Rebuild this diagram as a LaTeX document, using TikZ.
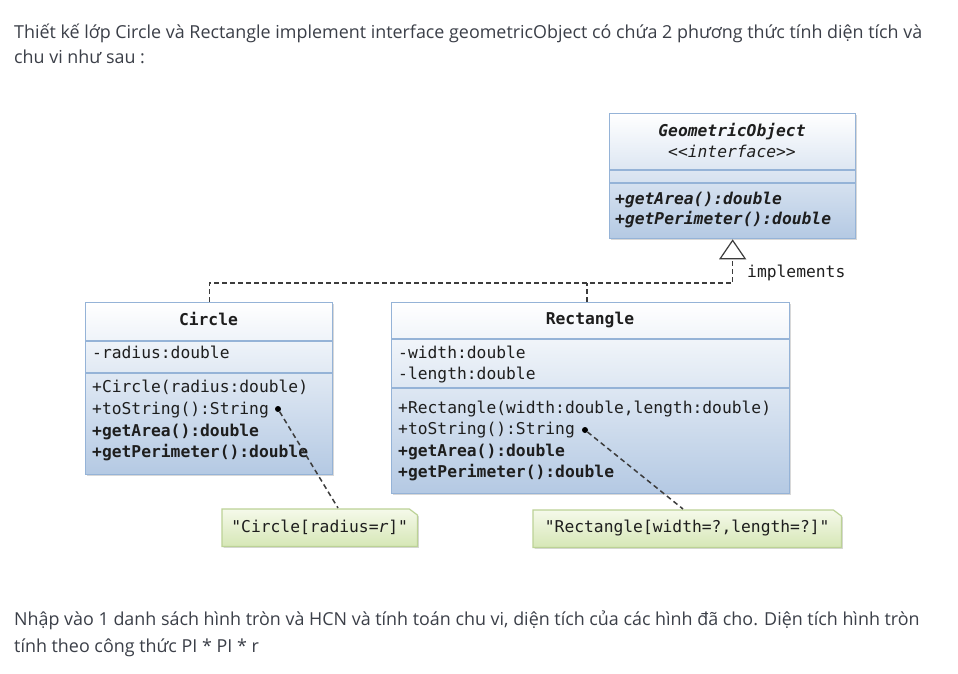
\documentclass[tikz,border=0pt]{standalone}
\usepackage{fontspec}
\setmainfont{Open Sans}
\setmonofont{DejaVu Sans Mono}
\usetikzlibrary{arrows.meta,shadows}
\definecolor{txt}{HTML}{3B3F48}
\definecolor{boxline}{HTML}{95B3D7}
\definecolor{boxbot}{HTML}{B4C9E3}
\definecolor{notetop}{HTML}{F5F9EA}
\definecolor{notebot}{HTML}{D6E7B6}
\definecolor{noteline}{HTML}{BCD296}
\definecolor{monotxt}{HTML}{1E1E1E}
\definecolor{conncol}{HTML}{3C3C3C}
\begin{document}
\begin{tikzpicture}[x=1pt,y=-1pt,
  para/.style={font=\fontsize{17.9}{22}\selectfont, text=txt, anchor=base west, inner sep=0},
  mono/.style={font=\fontsize{16.3}{20}\ttfamily\selectfont, text=monotxt, inner sep=0},
  umlbox/.style={draw=boxline, line width=1.3pt, top color=white, bottom color=boxbot,
     drop shadow={shadow xshift=1.5pt, shadow yshift=-1.5pt, opacity=0.3}, inner sep=0, anchor=north west},
  divider/.style={draw=boxline, line width=1.2pt},
  noteshape/.style={draw=noteline, line width=1.2pt, top color=notetop, bottom color=notebot,
     drop shadow={shadow xshift=1.5pt, shadow yshift=-1.5pt, opacity=0.3}},
  holder/.style={inner sep=0, anchor=north west},
  conn/.style={draw=conncol, line width=1.3pt, dash pattern=on 5pt off 3pt},
  noteconn/.style={draw=conncol, line width=1.5pt, dash pattern=on 5pt off 3.5pt},
  pin/.style={circle, fill=black, inner sep=0, minimum size=6pt}
]
\useasboundingbox (0,0) rectangle (958,673);
\fill[white] (0,0) rectangle (958,673);

% paragraph texts
\node[para] (p1) at (14,38) {Thiết kế lớp Circle và Rectangle implement interface geometricObject có chứa 2 phương thức tính diện tích và};
\node[para] (p2) at (14,63) {chu vi như sau :};
\node[para] (p3) at (14,625) {Nhập vào 1 danh sách hình tròn và HCN và tính toán chu vi, diện tích của các hình đã cho. Diện tích hình tròn};
\node[para] (p4) at (14,652) {tính theo công thức PI * PI * r};

% GeometricObject
\node[umlbox, minimum width=246pt, minimum height=125pt] (geo) at (609,113) {};
\draw[divider] (609,170) -- (855,170);
\draw[divider] (609,183) -- (855,183);
\node[mono, anchor=base, font=\fontsize{16.3}{20}\ttfamily\bfseries\itshape\selectfont] (geoname) at (732,136) {GeometricObject};
\node[mono, anchor=base, font=\fontsize{16.3}{20}\ttfamily\itshape\selectfont] (geoster) at (732,157) {<{}<interface>{}>};
\node[mono, anchor=base west, font=\fontsize{16.3}{20}\ttfamily\bfseries\itshape\selectfont] (geom1) at (615,204) {+getArea():double};
\node[mono, anchor=base west, font=\fontsize{16.3}{20}\ttfamily\bfseries\itshape\selectfont] (geom2) at (615,224) {+getPerimeter():double};

% Circle
\node[umlbox, minimum width=247pt, minimum height=172pt] (circ) at (85,302) {};
\draw[divider] (85,341) -- (332,341);
\draw[divider] (85,373) -- (332,373);
\node[mono, anchor=base, font=\fontsize{16.3}{20}\ttfamily\bfseries\selectfont] (circname) at (208.5,325) {Circle};
\node[mono, anchor=base west] (ca1) at (92,358) {-radius:double};
\node[mono, anchor=base west] (cm1) at (92,392) {+Circle(radius:double)};
\node[mono, anchor=base west] (cm2) at (92,414) {+toString():String};
\node[mono, anchor=base west, font=\fontsize{16.3}{20}\ttfamily\bfseries\selectfont] (cm3) at (92,436) {+getArea():double};
\node[mono, anchor=base west, font=\fontsize{16.3}{20}\ttfamily\bfseries\selectfont] (cm4) at (92,457) {+getPerimeter():double};
\node[pin] (cdot) at (278,409) {};

% Rectangle
\node[umlbox, minimum width=398pt, minimum height=191pt] (rect) at (391,302) {};
\draw[divider] (391,339) -- (789,339);
\draw[divider] (391,388) -- (789,388);
\node[mono, anchor=base, font=\fontsize{16.3}{20}\ttfamily\bfseries\selectfont] (rectname) at (590,324) {Rectangle};
\node[mono, anchor=base west] (ra1) at (398,358) {-width:double};
\node[mono, anchor=base west] (ra2) at (398,379) {-length:double};
\node[mono, anchor=base west] (rm1) at (398,413) {+Rectangle(width:double,length:double)};
\node[mono, anchor=base west] (rm2) at (398,434) {+toString():String};
\node[mono, anchor=base west, font=\fontsize{16.3}{20}\ttfamily\bfseries\selectfont] (rm3) at (398,456) {+getArea():double};
\node[mono, anchor=base west, font=\fontsize{16.3}{20}\ttfamily\bfseries\selectfont] (rm4) at (398,477) {+getPerimeter():double};
\node[pin] (rdot) at (585,430) {};

% notes
\node[holder, minimum width=195pt, minimum height=37pt] (cnote) at (222,509) {};
\path[noteshape] (cnote.north west) -- ([xshift=-8pt]cnote.north east) -- ([yshift=-6pt]cnote.north east) -- (cnote.south east) -- (cnote.south west) -- cycle;
\node[mono] (cnotetext) at ([yshift=0.5pt]cnote.center) {"Circle[radius=\textit{r}]"};

\node[holder, minimum width=308pt, minimum height=37pt] (rnote) at (533,510) {};
\path[noteshape] (rnote.north west) -- ([xshift=-8pt]rnote.north east) -- ([yshift=-6pt]rnote.north east) -- (rnote.south east) -- (rnote.south west) -- cycle;
\node[mono] (rnotetext) at ([yshift=0.5pt]rnote.center) {"Rectangle[width=?,length=?]"};

% note connectors
\draw[noteconn] (cdot) -- (338,508);
\draw[noteconn] (rdot) -- (683,509);

% implements connectors
\coordinate (bus) at (587,283);
\draw[conn, -{Triangle[open, length=20pt, width=27pt, fill=white, line width=1.2pt]}] (circ.north) |- (geo.south |- bus) -- (geo.south);
\draw[conn] (rect.north -| bus) -- (bus);
\node[mono, anchor=base west, font=\fontsize{16.3}{20}\ttfamily\selectfont] (impl) at (747,277) {implements};
\end{tikzpicture}
\end{document}
